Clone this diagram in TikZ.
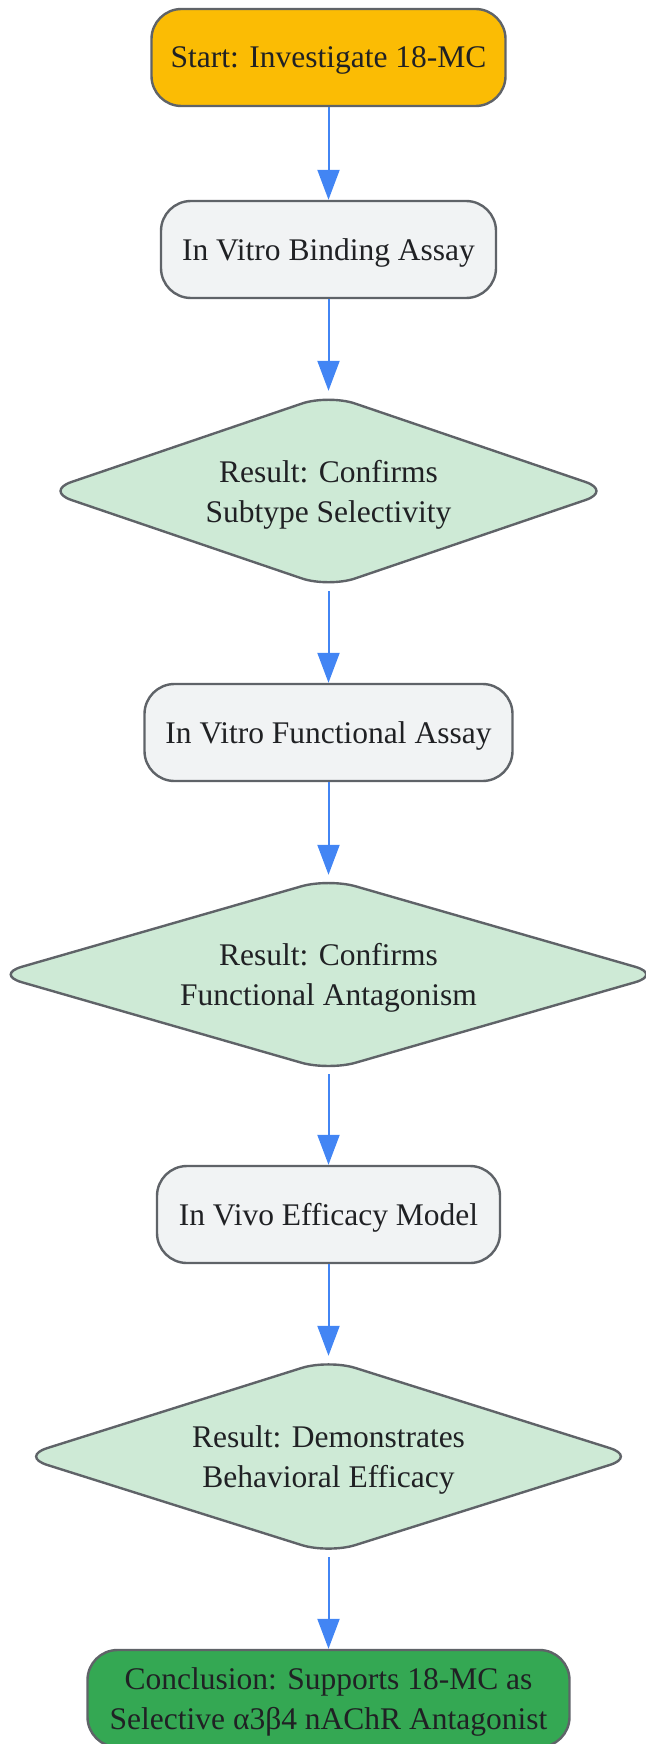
\documentclass[tikz,border=0pt]{standalone}
\usepackage{fontspec}
\setmainfont{Liberation Serif}
\usetikzlibrary{arrows.meta,shapes.geometric}
\definecolor{startfill}{HTML}{FBBC04}
\definecolor{boxgray}{HTML}{F1F3F4}
\definecolor{resultgreen}{HTML}{CEEAD6}
\definecolor{endgreen}{HTML}{34A853}
\definecolor{edgegray}{HTML}{5F6368}
\definecolor{flowblue}{HTML}{4285F4}
\definecolor{txtgray}{HTML}{202124}
\begin{document}
\begin{tikzpicture}[x=1pt,y=-1pt,
    every node/.style={text=txtgray,font=\fontsize{31.5}{40}\selectfont,align=center,text depth=0pt},
    stepbox/.style={draw=edgegray,line width=2.4pt,rounded corners=30pt,fill=boxgray,minimum height=97pt,inner sep=0pt},
    resultbox/.style={diamond,draw=edgegray,line width=2.4pt,rounded corners=28pt,fill=resultgreen,inner sep=0pt},
    flow/.style={draw=flowblue,line width=2pt,-{Triangle[length=30pt,width=22pt]}}]
  \useasboundingbox (0,0) rectangle (645,1744);
  \node[stepbox,fill=startfill,minimum width=354pt] (start) at (328.5,57.5) {Start: Investigate 18-MC};
  \node[stepbox,minimum width=335pt] (binding) at (328.5,249.5) {In Vitro Binding Assay};
  \node[resultbox,aspect=2.95,minimum width=568pt,minimum height=194pt] (selective) at (328.5,491) {Result: Confirms\\Subtype Selectivity};
  \node[stepbox,minimum width=368pt] (functional) at (328.5,732.5) {In Vitro Functional Assay};
  \node[resultbox,aspect=3.45,minimum width=668pt,minimum height=193pt] (antagonism) at (328.5,974.5) {Result: Confirms\\Functional Antagonism};
  \node[stepbox,minimum width=343pt] (invivo) at (328.5,1214.5) {In Vivo Efficacy Model};
  \node[resultbox,aspect=3.15,minimum width=617pt,minimum height=195pt] (efficacy) at (328.5,1456.5) {Result: Demonstrates\\Behavioral Efficacy};
  \node[stepbox,fill=endgreen,minimum width=482pt] (conclusion) at (328.5,1698.5) {Conclusion: Supports 18-MC as\\Selective α3β4 nAChR Antagonist};
  % connectors
  \draw[flow] (start.south) -- (binding.north);
  \draw[flow,shorten >=2pt] (binding.south) -- (selective.north);
  \draw[flow,shorten <=2pt] (selective.south) -- (functional.north);
  \draw[flow,shorten >=2pt] (functional.south) -- (antagonism.north);
  \draw[flow,shorten <=2pt] (antagonism.south) -- (invivo.north);
  \draw[flow,shorten >=2pt] (invivo.south) -- (efficacy.north);
  \draw[flow,shorten <=2pt] (efficacy.south) -- (conclusion.north);
\end{tikzpicture}
\end{document}
